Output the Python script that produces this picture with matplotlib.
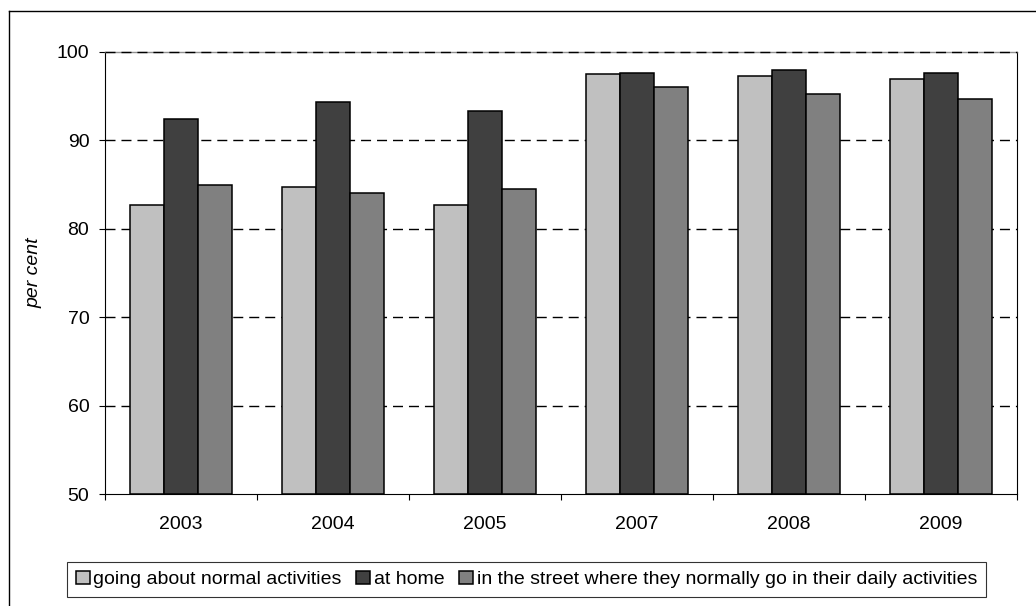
import matplotlib
matplotlib.use('Agg')
import matplotlib.pyplot as plt
from matplotlib.lines import Line2D
import numpy as np

plt.rcParams['font.family'] = ['Liberation Sans', 'DejaVu Sans']

years = ['2003', '2004', '2005', '2007', '2008', '2009']
normal = [82.7, 84.7, 82.7, 97.5, 97.3, 96.9]
home = [92.4, 94.3, 93.3, 97.6, 98.0, 97.6]
street = [84.9, 84.0, 84.5, 96.0, 95.3, 94.7]
labels = ['going about normal activities', 'at home',
          'in the street where they normally go in their daily activities']
colors = ['#c0c0c0', '#404040', '#808080']

fig = plt.figure(figsize=(10.36, 6.06), dpi=100)
ax = fig.add_axes([0.1014, 0.1848, 0.8803, 0.7294])

x = np.arange(len(years))
w = 0.224
for i, (vals, lab, c) in enumerate(zip([normal, home, street], labels, colors)):
    ax.bar(x + (i - 1) * w, np.array(vals) - 50, w, bottom=50, color=c,
           edgecolor='black', linewidth=1.1, label=lab, zorder=3)

ax.set_xlim(-0.5, len(years) - 0.5)
ax.set_ylim(50, 100)
ax.set_yticks([50, 60, 70, 80, 90, 100])
ax.tick_params(axis='y', labelsize=14, direction='out', length=4.3, width=0.8, pad=7)
ax.set_xticks(x)
ax.set_xticklabels(years)
ax.tick_params(axis='x', which='major', length=0, labelsize=14, pad=16)
ax.set_xticks(np.arange(-0.5, len(years), 1), minor=True)
ax.tick_params(axis='x', which='minor', direction='out', length=4.3, width=0.8)

for yv in [60, 70, 80, 90, 100]:
    ax.axhline(yv, color='black', linestyle=(0, (7.2, 4.3)), linewidth=1.0,
               zorder=4 if yv == 100 else 2, clip_on=False)

ax.spines['top'].set_color('#909090')
ax.spines['top'].set_linewidth(1.0)
ax.spines['right'].set_linewidth(0.8)
ax.spines['left'].set_linewidth(0.8)
ax.spines['bottom'].set_linewidth(0.8)

ax.set_ylabel('per cent', fontsize=14, style='italic')
ax.yaxis.set_label_coords(-0.069, 0.5)

leg = fig.legend(loc='center', bbox_to_anchor=(0.5082, 0.0437), ncol=3,
                 fontsize=14, frameon=True, fancybox=False, edgecolor='black',
                 handlelength=0.7, handleheight=0.7, handletextpad=0.2,
                 columnspacing=0.75, borderpad=0.45, borderaxespad=0)
leg.get_frame().set_linewidth(0.8)

# outer chart border (right and bottom edges fall outside the image)
fig.add_artist(Line2D([8.5 / 1036, 8.5 / 1036], [0, 1 - 10.5 / 606],
                      transform=fig.transFigure, color='black', linewidth=1))
fig.add_artist(Line2D([8.5 / 1036, 1], [1 - 10.5 / 606, 1 - 10.5 / 606],
                      transform=fig.transFigure, color='black', linewidth=1))

fig.savefig('out.png', dpi=100)
